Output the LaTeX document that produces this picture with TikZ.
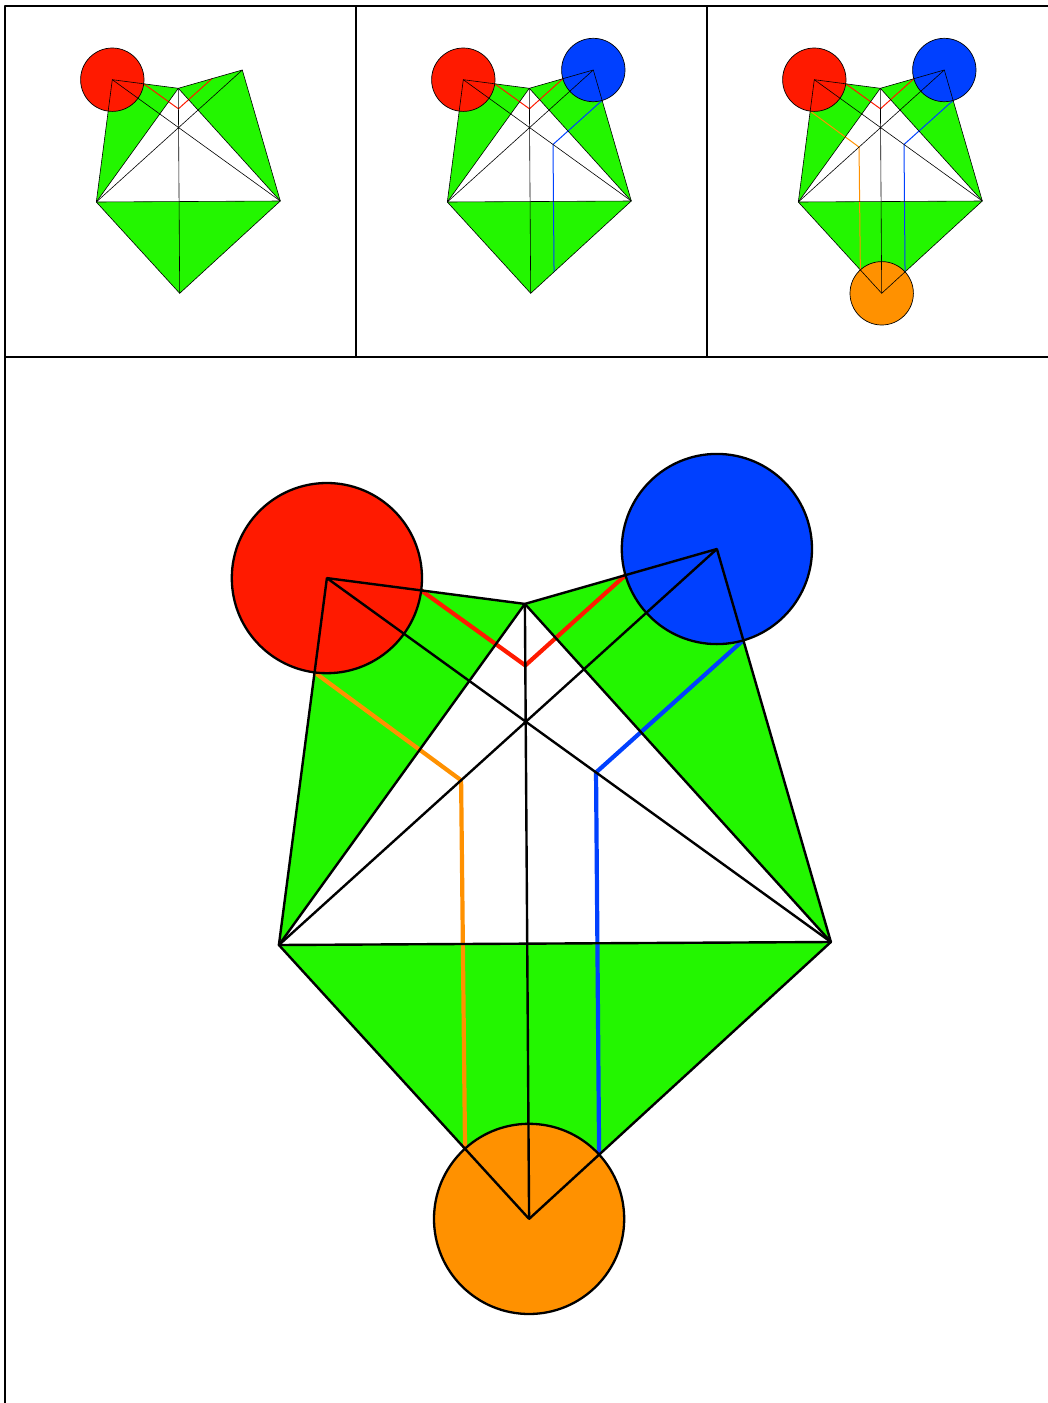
\documentclass[tikz,border=0pt]{standalone}
\usetikzlibrary{calc}

\definecolor{facegreen}{RGB}{35,246,0}
\definecolor{copyred}{RGB}{255,26,0}
\definecolor{copyblue}{RGB}{0,64,255}
\definecolor{copyorange}{RGB}{255,145,0}

\tikzset{
  panelframe/.style={line width=2pt},
}

% one panel of the unfolded net: #1,#2 shift, #3 scale, #4 stage
\newcommand{\netpanel}[4]{%
  \begin{scope}[shift={(#1,#2)}, scale=#3, line join=round,
      edge/.style={line width=0.6pt+0.9pt*(#3-1)},
      cutline/.style={line width=1pt+1.6pt*(#3-1)},
      copydisc/.style={draw, line width=0.7pt+0.8pt*(#3-1)}]
    % corners of the net
    \coordinate (pr) at (107.3,73.7);
    \coordinate (pb) at (237.3,64);
    \coordinate (po) at (174.7,287.3);
    \coordinate (vt) at (173.3,82.3);
    \coordinate (vl) at (91.3,196);
    \coordinate (vr) at (275.3,195);

    % frame
    \draw[panelframe] (0,0) rectangle (351,351);

    % green faces
    \fill[facegreen] (pr) -- (vt) -- (vl) -- cycle;
    \fill[facegreen] (pb) -- (vt) -- (vr) -- cycle;
    \fill[facegreen] (vl) -- (vr) -- (po) -- cycle;

    % cut paths
    \draw[cutline, copyred] ($(pr)!0.476!(vt)$) -- ($(vt)!0.1!(po)$) -- ($(pb)!0.476!(vt)$);
    \ifnum#4>1
      \draw[cutline, copyblue] ($(pb)!0.232!(vr)$) -- ($(pr)!0.534!(vr)$) -- ($(po)!0.232!(vr)$);
    \fi
    \ifnum#4>2
      \draw[cutline, copyorange] ($(pr)!0.257!(vl)$) -- ($(pb)!0.584!(vl)$) -- ($(po)!0.256!(vl)$);
    \fi

    % copies of the fourth vertex
    \filldraw[copydisc, fill=copyred] (pr) circle[radius=31.7];
    \ifnum#4>1
      \filldraw[copydisc, fill=copyblue] (pb) circle[radius=31.7];
    \fi
    \ifnum#4>2
      \filldraw[copydisc, fill=copyorange] (po) circle[radius=31.7];
    \fi

    % edges
    \draw[edge] (pr) -- (vt) -- (pb) -- (vr) -- (po) -- (vl) -- cycle;
    \draw[edge] (vl) -- (vt) -- (vr) -- cycle;
    \draw[edge] (pr) -- (vr) (pb) -- (vl) (vt) -- (po);
  \end{scope}}

\begin{document}
\begin{tikzpicture}[x=1pt, y=-1pt]
    \useasboundingbox (0,0) rectangle (1048,1403);
    \clip (0,0) rectangle (1048,1403);

    % top row
    \netpanel{5}{6}{1}{1}
    \netpanel{356}{6}{1}{2}
    \netpanel{707}{6}{1}{3}

    % large panel
    \netpanel{5}{357}{3}{3}
\end{tikzpicture}
\end{document}
